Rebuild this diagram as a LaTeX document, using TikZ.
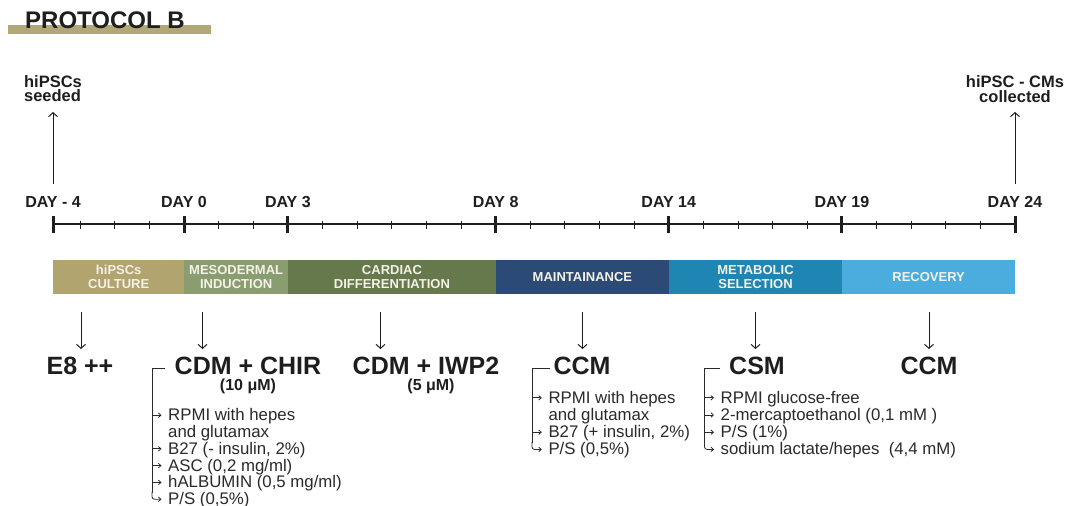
\documentclass[tikz,border=0pt]{standalone}
\usepackage{fontspec}
\setmainfont{Liberation Sans}
\usetikzlibrary{arrows.meta,calc}
\definecolor{ink}{HTML}{1E1E1E}
\definecolor{itemink}{HTML}{2A2A2A}
\definecolor{gold}{HTML}{B2A777}
\definecolor{cA}{HTML}{B1A46F}
\definecolor{cB}{HTML}{8A9D70}
\definecolor{cC}{HTML}{66794C}
\definecolor{cD}{HTML}{2C4A76}
\definecolor{cE}{HTML}{1F86B3}
\definecolor{cF}{HTML}{4BADDE}
\definecolor{phtext}{HTML}{F4F1E6}
\tikzset{
  titletext/.style={font=\fontsize{24}{26}\selectfont\bfseries, text=ink, inner sep=0pt, anchor=base west},
  daylabel/.style={font=\fontsize{16}{18}\selectfont\bfseries, text=ink, inner sep=0pt, anchor=base},
  endlabel/.style={font=\fontsize{16.5}{14.4}\selectfont\bfseries, text=ink, inner sep=0pt, anchor=south},
  phase/.style={anchor=north west, inner sep=0pt, minimum height=34pt, align=center,
     font=\fontsize{13}{14}\selectfont\bfseries, text=phtext},
  medium/.style={font=\fontsize{25}{27}\selectfont\bfseries, text=ink, inner sep=0pt, anchor=base},
  conc/.style={font=\fontsize{16}{18}\selectfont\bfseries, text=ink, inner sep=0pt, anchor=base},
  item/.style={font=\fontsize{16.8}{18}\selectfont, text=itemink, inner sep=0pt, anchor=base west},
  axisline/.style={line width=2pt, draw=ink},
  majortick/.style={line width=3pt, draw=ink},
  minortick/.style={line width=0.9pt, draw=ink},
  bigarrow/.style={line width=1pt, draw=ink, -{Straight Barb[length=4pt,width=9pt]}},
  bracketline/.style={line width=0.8pt, draw=itemink},
  itemarrow/.style={line width=0.8pt, draw=itemink, -{Straight Barb[length=2.5pt,width=4.5pt]}},
}
\begin{document}
\begin{tikzpicture}[x=1pt,y=-1pt]
\useasboundingbox (0,0) rectangle (1066,506);
\fill[white] (0,0) rectangle (1066,506);

% title
\fill[gold] (8,25) rectangle (211,33.5);
\node[titletext] (title) at (25,28.3) {PROTOCOL B};

% end labels
\node[endlabel, align=left] (seeded) at (53,102) {hiPSCs\\seeded};
\node[endlabel, align=center] (collected) at (1015,102.5) {hiPSC - CMs\\collected};
\coordinate (seedfoot) at (53,184);
\coordinate (seedtip) at (53,112);
\coordinate (collfoot) at (1015,184);
\coordinate (colltip) at (1015,112);
\draw[bigarrow] (seedfoot) -- (seedtip);
\draw[bigarrow] (collfoot) -- (colltip);

% timeline
\coordinate (tstart) at (53,224);
\coordinate (tend) at (1015,224);
\draw[axisline] (tstart) -- (tend);
\foreach \k in {-3,...,24} { \draw[minortick] ({184+34.625*\k},220.5) -- ++(0,8); }
\foreach \x in {53,184,287.9,495.6,668.75,841.9,1015} { \draw[majortick] (\x,215.5) -- (\x,233); }

% day labels
\node[daylabel] (dm4) at (53,207.5) {DAY - 4};
\node[daylabel] (d0) at (184,207.5) {DAY 0};
\node[daylabel] (d3) at (287.9,207.5) {DAY 3};
\node[daylabel] (d8) at (495.6,207.5) {DAY 8};
\node[daylabel] (d14) at (668.75,207.5) {DAY 14};
\node[daylabel] (d19) at (841.9,207.5) {DAY 19};
\node[daylabel] (d24) at (1015,207.5) {DAY 24};

% phase bar
\node[phase, fill=cA, minimum width=131pt] (pA) at (53,260) {hiPSCs\\CULTURE};
\node[phase, fill=cB, minimum width=103.9pt] (pB) at (184,260) {MESODERMAL\\INDUCTION};
\node[phase, fill=cC, minimum width=207.7pt] (pC) at (287.9,260) {CARDIAC\\DIFFERENTIATION};
\node[phase, fill=cD, minimum width=173.15pt] (pD) at (495.6,260) {MAINTAINANCE};
\node[phase, fill=cE, minimum width=173.15pt] (pE) at (668.75,260) {METABOLIC\\SELECTION};
\node[phase, fill=cF, minimum width=173.1pt] (pF) at (841.9,260) {RECOVERY};

% down arrows
\foreach \x/\n in {81/a,202.5/b,380.5/c,582.5/d,755.5/e,929/f} {
  \coordinate (top\n) at (\x,312);
  \coordinate (bot\n) at (\x,349);
  \draw[bigarrow] (top\n) -- (bot\n);
}

% media
\node[medium] (e8) at (80,374) {E8 ++};
\node[medium] (chir) at (248,374) {CDM + CHIR};
\node[conc] (chirc) at (248,390) {(10 μM)};
\node[medium] (iwp) at (426,374) {CDM + IWP2};
\node[conc] (iwpc) at (431,390) {(5 μM)};
\node[medium] (ccmA) at (582,374) {CCM};
\node[medium] (csm) at (757,374) {CSM};
\node[medium] (ccmB) at (929,374) {CCM};

% CHIR list
\node[item] (h1) at (168,420.7) {RPMI with hepes};
\node[item] (h2) at (168,437.5) {and glutamax};
\node[item] (h3) at (168,454.3) {B27 (- insulin, 2\%)};
\node[item] (h4) at (168,471.1) {ASC (0,2 mg/ml)};
\node[item] (h5) at (168,487.9) {hALBUMIN (0,5 mg/ml)};
\node[item] (h6) at (168,504.7) {P/S (0,5\%)};
\coordinate (hbt) at (152,368);
\draw[bracketline] (165,368) -- (hbt) -- ($(h6.base west)+(-16,-12)$);
\draw[bracketline, rounded corners=2.5pt, -{Straight Barb[length=2.5pt,width=4.5pt]}] ($(h6.base west)+(-16,-13)$) -- ($(h6.base west)+(-16,-5.5)$) -- ($(h6.base west)+(-6.5,-5.5)$);
\foreach \n in {h1,h3,h4,h5} { \draw[itemarrow] ($(\n.base west)+(-16,-5.5)$) -- ($(\n.base west)+(-6.5,-5.5)$); }

% CCM list
\node[item] (m1) at (548.3,403.3) {RPMI with hepes};
\node[item] (m2) at (548.3,420.5) {and glutamax};
\node[item] (m3) at (548.3,437.7) {B27 (+ insulin, 2\%)};
\node[item] (m4) at (548.3,454.9) {P/S (0,5\%)};
\coordinate (mbt) at (532,368);
\draw[bracketline] (550,368) -- (mbt) -- ($(m4.base west)+(-16.3,-12)$);
\draw[bracketline, rounded corners=2.5pt, -{Straight Barb[length=2.5pt,width=4.5pt]}] ($(m4.base west)+(-16.3,-13)$) -- ($(m4.base west)+(-16.3,-5.5)$) -- ($(m4.base west)+(-6.5,-5.5)$);
\foreach \n in {m1,m3} { \draw[itemarrow] ($(\n.base west)+(-16.3,-5.5)$) -- ($(\n.base west)+(-6.5,-5.5)$); }

% CSM list
\node[item] (s1) at (720.5,403.3) {RPMI glucose-free};
\node[item] (s2) at (720.5,420.5) {2-mercaptoethanol (0,1 mM )};
\node[item] (s3) at (720.5,437.7) {P/S (1\%)};
\node[item] (s4) at (720.5,454.9) {sodium lactate/hepes\ \ (4,4 mM)};
\coordinate (sbt) at (704.5,368);
\draw[bracketline] (720,368) -- (sbt) -- ($(s4.base west)+(-16,-12)$);
\draw[bracketline, rounded corners=2.5pt, -{Straight Barb[length=2.5pt,width=4.5pt]}] ($(s4.base west)+(-16,-13)$) -- ($(s4.base west)+(-16,-5.5)$) -- ($(s4.base west)+(-6.5,-5.5)$);
\foreach \n in {s1,s2,s3} { \draw[itemarrow] ($(\n.base west)+(-16,-5.5)$) -- ($(\n.base west)+(-6.5,-5.5)$); }
\end{tikzpicture}
\end{document}
